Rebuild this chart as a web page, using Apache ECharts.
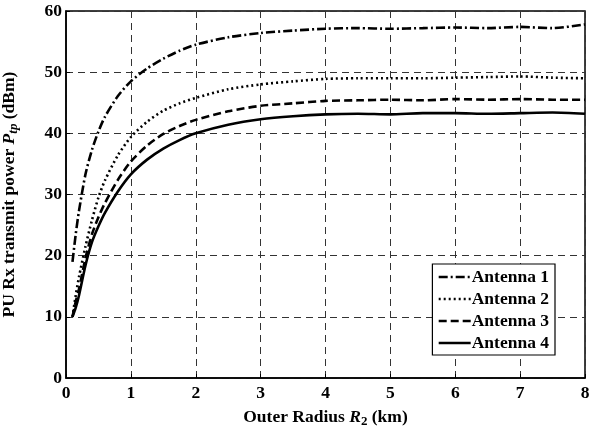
<!DOCTYPE html>
<html>
<head>
<meta charset="utf-8">
<script src="https://cdn.jsdelivr.net/npm/echarts@6/dist/echarts.min.js"></script>
<style>html,body{margin:0;padding:0;background:#fff}#c{width:600px;height:430px}</style>
</head>
<body>
<div id="c"></div>
<script>
const xValues = [0.1,0.15,0.2,0.3,0.4,0.5,0.6,0.8,1,1.25,1.5,1.75,2,2.5,3,3.5,4,4.5,5,5.5,6,6.5,7,7.5,8];
const antenna1 = [19,23.5,27.3,33.3,37.3,40.3,42.7,46.1,48.5,50.6,52.2,53.5,54.5,55.7,56.4,56.8,57.1,57.2,57.1,57.2,57.3,57.2,57.4,57.2,57.8];
const antenna2 = [10,13.5,16.5,21.5,25.8,29.5,32.3,36.4,39.4,41.9,43.7,44.9,45.8,47.2,48,48.5,48.9,49,49,49,49.1,49.2,49.3,49.1,49];
const antenna3 = [10,12.5,14.5,19.6,23.5,26.3,28.6,32.4,35.4,38,39.9,41.2,42.2,43.6,44.5,44.9,45.3,45.4,45.5,45.4,45.6,45.5,45.6,45.5,45.5];
const antenna4 = [10,11.5,13.5,18.4,22.2,24.8,27,30.5,33.3,35.7,37.5,38.9,40,41.4,42.3,42.8,43.1,43.2,43.1,43.3,43.3,43.2,43.3,43.4,43.2];
const seriesNames = ['Antenna 1','Antenna 2','Antenna 3','Antenna 4'];
const xTicks = [0,1,2,3,4,5,6,7,8];
const yTicks = [0,10,20,30,40,50,60];

const font = 'Liberation Serif';
const dashes = [[9,3,2,3],[2,3],[8,4],'solid'];
const allData = [antenna1, antenna2, antenna3, antenna4];

const chart = echarts.init(document.getElementById('c'));
chart.setOption({
  animation: false,
  backgroundColor: '#fff',
  grid: {left: 66, right: 15, top: 11, bottom: 52, show: true, borderColor: '#000', borderWidth: 1.5,
    backgroundColor: 'transparent', containLabel: false, outerBoundsMode: 'none'},
  legend: {
    orient: 'vertical', right: 45, top: 264,
    backgroundColor: '#fff', borderColor: '#000', borderWidth: 1.2,
    padding: [4, 6, 3, 5], itemGap: 4, itemWidth: 32, itemHeight: 17,
    itemStyle: {opacity: 0},
    lineStyle: {width: 2.6},
    textStyle: {fontFamily: font, fontWeight: 'bold', fontSize: 17.5, color: '#000', padding: [0,0,0,-4]},
    data: seriesNames
  },
  xAxis: {
    type: 'value', min: 0, max: 8, interval: 1,
    name: 'Outer Radius {i|R}{sub|2} (km)', nameLocation: 'middle', nameGap: 28,
    nameTextStyle: {fontFamily: font, fontWeight: 'bold', fontSize: 17.5, color: '#000',
      rich: {i: {fontFamily: font, fontWeight: 'bold', fontStyle: 'italic', fontSize: 17.5}, sub: {fontFamily: font, fontWeight: 'bold', fontSize: 13, padding: [9,0,0,0]}}},
    axisLine: {show: true, onZero: false, lineStyle: {color: '#000', width: 1.5}},
    axisTick: {show: true, inside: true, length: 4, lineStyle: {color: '#000'}},
    axisLabel: {fontFamily: font, fontWeight: 'bold', fontSize: 17.5, color: '#000', margin: 6,
      formatter: v => xTicks.includes(v) ? String(v) : ''},
    splitLine: {show: true, lineStyle: {color: '#333', type: [7,5], width: 1}}
  },
  yAxis: {
    type: 'value', min: 0, max: 60, interval: 10,
    name: 'PU Rx transmit power {i|P}{sub|tp} (dBm)', nameLocation: 'middle', nameGap: 46,
    nameTextStyle: {fontFamily: font, fontWeight: 'bold', fontSize: 17.5, color: '#000',
      rich: {i: {fontFamily: font, fontWeight: 'bold', fontStyle: 'italic', fontSize: 17.5}, sub: {fontFamily: font, fontWeight: 'bold', fontStyle: 'italic', fontSize: 13, padding: [9,0,0,0]}}},
    axisLine: {show: true, lineStyle: {color: '#000', width: 1.5}},
    axisTick: {show: true, inside: true, length: 4, lineStyle: {color: '#000'}},
    axisLabel: {fontFamily: font, fontWeight: 'bold', fontSize: 17.5, color: '#000', margin: 4,
      formatter: v => yTicks.includes(v) ? String(v) : ''},
    splitLine: {show: true, lineStyle: {color: '#333', type: [7,5], width: 1}}
  },
  series: seriesNames.map((n, i) => ({
    name: n, type: 'line', symbol: 'none', smooth: 0.25,
    data: xValues.map((x, k) => [x, allData[i][k]]),
    lineStyle: {color: '#000', width: 2.6, type: dashes[i]},
    itemStyle: {color: '#000'}
  }))
});
</script>
</body>
</html>
